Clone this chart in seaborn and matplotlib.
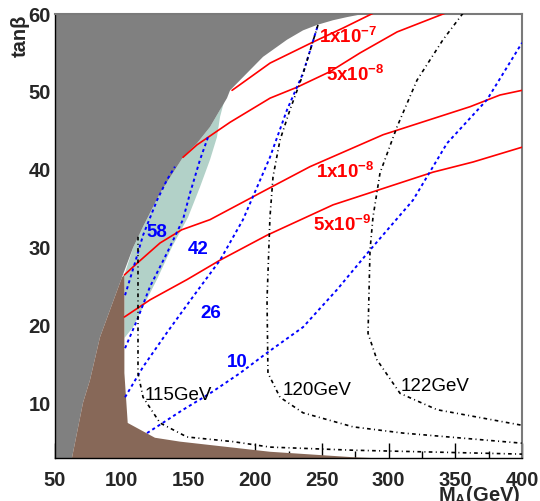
import matplotlib
matplotlib.use("Agg")
import matplotlib.pyplot as plt
from matplotlib.ticker import MultipleLocator
import seaborn as sns

# excluded region (grey), boundary from bottom to top
grey_x = [62.7, 71.0, 76.2, 83.7, 100.2, 108.5, 116.0, 128.7, 138.4, 145.9, 156.4,
          166.2, 173.7, 178.9, 181.2, 205.9, 223.9, 235.9, 246.4, 258.4, 268.8, 283.8]
grey_y = [3.0, 10.1, 13.0, 18.5, 26.2, 30.0, 32.7, 37.0, 39.6, 41.6, 43.4,
          45.5, 47.7, 49.2, 50.2, 54.5, 56.7, 57.9, 58.6, 59.2, 59.6, 60.1]

# brown region
brown_x = [62.7, 71.0, 76.2, 83.7, 100.2, 102.0, 102.0, 104.5, 124.9, 143.7, 211.2, 273.3, 300.0]
brown_y = [3.0, 10.1, 13.0, 18.5, 26.2, 26.5, 13.9, 7.5, 5.6, 5.1, 3.8, 3.1, 2.9]

# teal band
teal_x = [102.0, 102.0, 108.5, 116.0, 128.7, 138.4, 145.9, 156.4, 166.2, 173.7, 177.4,
          173.7, 171.4, 166.2, 158.7, 149.7, 137.7, 127.2, 116.0, 108.5, 102.0]
teal_y = [18.4, 26.5, 30.0, 32.7, 37.0, 39.6, 41.6, 43.4, 45.5, 47.7, 49.2,
          46.8, 44.2, 41.3, 37.8, 33.9, 30.1, 26.2, 22.4, 19.8, 18.4]

# red contours
red_1e7_x = [182.7, 211.2, 243.4, 265.9, 288.4]
red_1e7_y = [50.2, 53.7, 56.4, 58.2, 60.1]
red_5e8_x = [145.9, 156.4, 181.2, 211.2, 231.4, 256.1, 278.6, 306.4, 342.3]
red_5e8_y = [41.6, 43.2, 46.1, 49.2, 50.6, 52.6, 55.0, 57.7, 60.1]
red_1e8_x = [102.0, 111.5, 128.7, 145.0, 166.2, 211.2, 241.1, 295.9, 361.1, 383.5, 400.0]
red_1e8_y = [26.5, 28.0, 30.6, 32.3, 33.6, 37.7, 40.4, 44.5, 48.1, 49.6, 50.2]
red_5e9_x = [102.0, 121.2, 148.9, 173.7, 208.9, 258.4, 333.4, 363.3, 400.0]
red_5e9_y = [21.1, 23.3, 25.9, 28.4, 31.6, 35.5, 39.7, 41.0, 42.9]

# blue contours
blue_58_x = [102.5, 110.0, 116.0, 126.5, 133.9, 139.9]
blue_58_y = [23.9, 28.1, 31.6, 36.1, 38.7, 40.4]
blue_42_x = [102.5, 111.5, 121.2, 133.9, 145.9, 151.2, 158.7, 164.7]
blue_42_y = [17.1, 20.7, 25.0, 29.3, 33.6, 37.0, 41.3, 44.2]
blue_26_x = [102.5, 116.0, 133.9, 153.4, 173.7, 190.9, 211.1, 223.9, 235.9, 247.1]
blue_26_y = [10.8, 14.7, 19.1, 23.7, 28.4, 33.6, 41.6, 47.7, 52.4, 58.6]
blue_10_x = [119.0, 146.0, 166.2, 188.7, 208.9, 235.9, 261.3, 286.1, 318.3, 343.8, 373.8, 400.0]
blue_10_y = [6.2, 9.2, 11.3, 13.9, 16.5, 19.8, 24.6, 29.7, 36.1, 43.4, 49.0, 56.3]

# higgs mass contours
mh_115_x = [112.2, 112.2, 116.0, 128.7, 148.9, 183.4, 211.1, 273.3, 400.0]
mh_115_y = [31.4, 13.9, 10.8, 7.5, 5.7, 5.1, 4.4, 4.0, 3.5]
mh_120_x = [247.1, 235.1, 226.1, 218.6, 213.4, 211.1, 208.9, 209.6, 218.6, 235.9, 273.3, 310.8, 400.0]
mh_120_y = [58.6, 51.9, 47.7, 43.8, 39.1, 33.9, 23.3, 13.9, 10.8, 8.8, 7.0, 6.2, 4.9]
mh_122_x = [355.8, 340.8, 321.3, 306.3, 293.6, 288.3, 286.1, 284.6, 291.3, 308.6, 336.3, 400.0]
mh_122_y = [60.1, 56.7, 51.5, 45.5, 39.6, 33.9, 29.7, 19.0, 15.6, 11.3, 9.2, 7.2]

red_labels = ["1x10$^{-7}$", "5x10$^{-8}$", "1x10$^{-8}$", "5x10$^{-9}$"]
red_label_xy = [(269.6, 57.0), (274.8, 52.2), (267.3, 39.7), (265.1, 32.9)]
blue_labels = ["58", "42", "26", "10"]
blue_label_xy = [(126.5, 31.9), (157.2, 29.8), (166.9, 21.6), (186.4, 15.2)]
mh_labels = ["115GeV", "120GeV", "122GeV"]
mh_label_xy = [(142.2, 11.0), (246.4, 11.7), (334.8, 12.2)]

sns.set_theme(style="ticks")
plt.rcParams["font.family"] = ["Liberation Sans", "DejaVu Sans"]
plt.rcParams["font.weight"] = "bold"
plt.rcParams["mathtext.fontset"] = "custom"
plt.rcParams["mathtext.rm"] = "Liberation Sans"
plt.rcParams["mathtext.bf"] = "Liberation Sans:bold"
plt.rcParams["mathtext.default"] = "bf"

fig = plt.figure(figsize=(5.4, 5.01), dpi=100)
ax = fig.add_axes([55 / 540, 43 / 501, 467 / 540, 444 / 501])

ax.fill(teal_x + [90, 90], teal_y + [18.4, 18.4], color="#b2d1c8", lw=0, zorder=1)
ax.fill(grey_x + [40, 40], grey_y + [62, 2], color="#808080", lw=0, zorder=1.1)
ax.fill(brown_x + [300, 60], brown_y + [2, 2], color="#876858", lw=0, zorder=1.2)

def line(xs, ys, **kw):
    sns.lineplot(x=xs, y=ys, sort=False, estimator=None, ax=ax, legend=False, zorder=3, **kw)

for xs, ys in [(red_1e7_x, red_1e7_y), (red_5e8_x, red_5e8_y),
               (red_1e8_x, red_1e8_y), (red_5e9_x, red_5e9_y)]:
    line(xs, ys, color="red", lw=1.2)
for xs, ys in [(blue_58_x, blue_58_y), (blue_42_x, blue_42_y),
               (blue_26_x, blue_26_y), (blue_10_x, blue_10_y)]:
    line(xs, ys, color="blue", lw=1.4, linestyle=(0, (1.6, 1.6)))
for xs, ys in [(mh_115_x, mh_115_y), (mh_120_x, mh_120_y), (mh_122_x, mh_122_y)]:
    line(xs, ys, color="black", lw=1.2, linestyle=(0, (2.2, 2.0, 0.6, 2.0)))

for t, (x, y) in zip(red_labels, red_label_xy):
    ax.text(x, y, t, color="red", fontsize=13.5, ha="center", va="center", zorder=4)
for t, (x, y) in zip(blue_labels, blue_label_xy):
    ax.text(x, y, t, color="blue", fontsize=13.5, ha="center", va="center", zorder=4)
for t, (x, y) in zip(mh_labels, mh_label_xy):
    ax.text(x, y, t, color="black", fontsize=13.5, fontweight="normal",
            ha="center", va="center", zorder=4)

ax.set_xlim(50, 400)
ax.set_ylim(3, 60)
ax.xaxis.set_major_locator(MultipleLocator(50))
ax.xaxis.set_minor_locator(MultipleLocator(25))
ax.yaxis.set_major_locator(MultipleLocator(10))
ax.set_axisbelow(True)
ax.tick_params(axis="both", which="major", direction="in", length=11, width=1,
               color="black", labelsize=14.5)
ax.tick_params(axis="both", which="minor", direction="in", length=5, width=1, color="black")
ax.tick_params(axis="x", pad=9)
ax.tick_params(axis="y", pad=3)
for s in ["left", "bottom"]:
    ax.spines[s].set_color("black")
    ax.spines[s].set_linewidth(1)
for s in ["top", "right"]:
    ax.spines[s].set_color("#7a7a7a")
    ax.spines[s].set_linewidth(1.5)
ax.set_xlabel("")
ax.set_ylabel("")

fig.text(520 / 540, 1 - 484 / 501, "M$_A$(GeV)", ha="right", va="top", fontsize=14.5)
fig.text(20 / 540, 1 - 36 / 501, "tanβ", rotation=90, ha="center", va="center", fontsize=14.5)

fig.savefig("out.png", dpi=100)
